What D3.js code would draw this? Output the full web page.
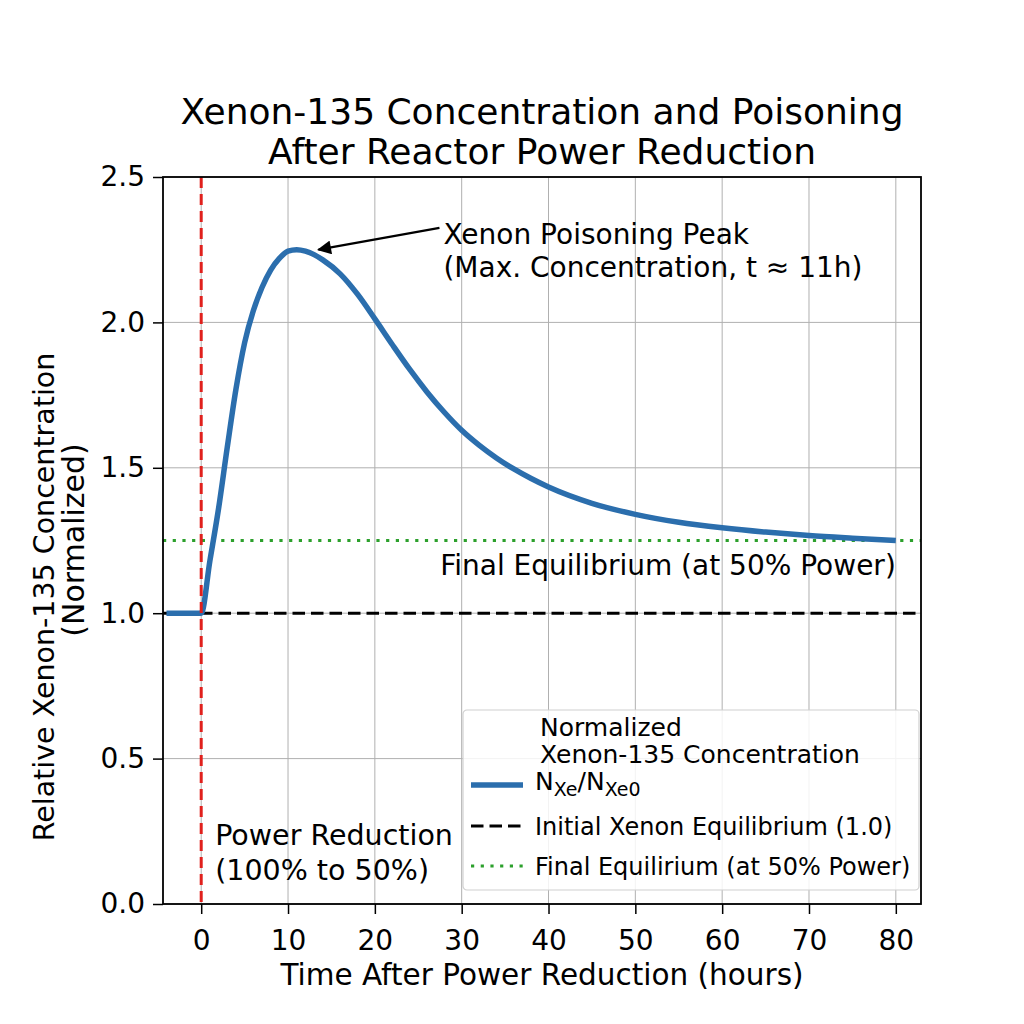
<!DOCTYPE html>
<html>
<head>
<meta charset="utf-8">
<script src="https://cdn.jsdelivr.net/npm/d3@7"></script>
<style>
  body { margin: 0; background: #fff; }
  svg { font-family: "DejaVu Sans", sans-serif; }
</style>
</head>
<body>
<script>
// data
let timeH = [-4, -2, 0, 1, 2, 3, 4, 5, 6, 7, 8, 9, 10, 11, 12, 13, 14, 16, 18, 20, 22, 24, 26, 28, 30, 32, 34, 36, 38, 40, 45, 50, 55, 60, 65, 70, 75, 80]
let xenonRel = [1.0, 1.0, 1.0, 1.18, 1.36, 1.57, 1.77, 1.93, 2.04, 2.12, 2.18, 2.22, 2.245, 2.25, 2.245, 2.233, 2.215, 2.167, 2.097, 2.012, 1.924, 1.839, 1.761, 1.691, 1.629, 1.578, 1.534, 1.496, 1.463, 1.434, 1.378, 1.34, 1.313, 1.294, 1.279, 1.267, 1.258, 1.25]
let xTicks = [0, 10, 20, 30, 40, 50, 60, 70, 80]
let yTicks = [0.0, 0.5, 1.0, 1.5, 2.0, 2.5]
let initialEq = 1.0
let finalEq = 1.25
let powerStepT = 0
let peakPoint = [13.5, 2.25]

let width = 1024
let height = 1024
let pLeft = 163, pRight = 921, pTop = 177, pBottom = 904

let svg = d3.select('body').append('svg')
    .attr('width', width)
    .attr('height', height)

let xScale = d3.scaleLinear().domain([-4.4, 82.9]).range([pLeft, pRight])
let yScale = d3.scaleLinear().domain([0, 2.5]).range([pBottom, pTop])

// grid
svg.append('g')
    .selectAll('line')
    .data(xTicks)
    .enter()
    .append('line')
    .attr('x1', d => xScale(d)).attr('x2', d => xScale(d))
    .attr('y1', pTop).attr('y2', pBottom)
    .attr('stroke', '#b0b0b0').attr('stroke-width', 1)

svg.append('g')
    .selectAll('line')
    .data(yTicks)
    .enter()
    .append('line')
    .attr('x1', pLeft).attr('x2', pRight)
    .attr('y1', d => yScale(d)).attr('y2', d => yScale(d))
    .attr('stroke', '#b0b0b0').attr('stroke-width', 1)

// reference lines
svg.append('line')
    .attr('x1', pLeft).attr('x2', pRight)
    .attr('y1', yScale(finalEq)).attr('y2', yScale(finalEq))
    .attr('stroke', '#2ca02c').attr('stroke-width', 3)
    .attr('stroke-dasharray', '3.2,6.5')

svg.append('line')
    .attr('x1', pLeft).attr('x2', pRight)
    .attr('y1', yScale(initialEq)).attr('y2', yScale(initialEq))
    .attr('stroke', '#000').attr('stroke-width', 3)
    .attr('stroke-dasharray', '12.5,6')

// xenon curve
let line = d3.line()
    .x((d, i) => xScale(timeH[i]))
    .y(d => yScale(d))
    .curve(d3.curveMonotoneX)

svg.append('path')
    .datum(xenonRel)
    .attr('d', line)
    .attr('fill', 'none')
    .attr('stroke', '#2b6ead')
    .attr('stroke-width', 5.5)

svg.append('line')
    .attr('x1', xScale(powerStepT)).attr('x2', xScale(powerStepT))
    .attr('y1', pTop).attr('y2', pBottom)
    .attr('stroke', '#e0201c').attr('stroke-width', 3)
    .attr('stroke-dasharray', '11,6')

// axes
let xAxis = d3.axisBottom(xScale).tickValues(xTicks).tickSize(10).tickPadding(16)
let yAxis = d3.axisLeft(yScale).tickValues(yTicks).tickSize(10).tickPadding(8)
    .tickFormat(d3.format('.1f'))

let gx = svg.append('g')
    .attr('transform', 'translate(0,' + pBottom + ')')
    .call(xAxis)
let gy = svg.append('g')
    .attr('transform', 'translate(' + pLeft + ',0)')
    .call(yAxis)

;[gx, gy].forEach(g => {
    g.select('.domain').remove()
    g.selectAll('.tick line').attr('stroke', '#000').attr('stroke-width', 1.5)
    g.selectAll('.tick text')
        .attr('fill', '#000')
        .style('font-size', '28px')
        .style('font-family', '"DejaVu Sans", sans-serif')
})

svg.append('rect')
    .attr('x', pLeft).attr('y', pTop)
    .attr('width', pRight - pLeft).attr('height', pBottom - pTop)
    .attr('fill', 'none').attr('stroke', '#000').attr('stroke-width', 1.8)

// titles
let title = svg.append('text')
    .attr('text-anchor', 'middle')
    .style('font-size', '36px')
title.append('tspan').attr('x', (pLeft + pRight) / 2).attr('y', 124)
    .text('Xenon-135 Concentration and Poisoning')
title.append('tspan').attr('x', (pLeft + pRight) / 2).attr('y', 164)
    .text('After Reactor Power Reduction')

svg.append('text')
    .attr('x', (pLeft + pRight) / 2).attr('y', 985)
    .attr('text-anchor', 'middle')
    .style('font-size', '29.5px')
    .text('Time After Power Reduction (hours)')

let ylab = svg.append('g').attr('transform', 'rotate(-90)')
ylab.append('text')
    .attr('text-anchor', 'middle')
    .attr('x', -597).attr('y', 54)
    .style('font-size', '28.5px')
    .text('Relative Xenon-135 Concentration')
ylab.append('text')
    .attr('text-anchor', 'middle')
    .attr('x', -540).attr('y', 84)
    .style('font-size', '30px')
    .text('(Normalized)')

// annotations
svg.append('defs').append('marker')
    .attr('id', 'arrowhead')
    .attr('viewBox', '0 0 10 10')
    .attr('refX', 9).attr('refY', 5)
    .attr('markerWidth', 15).attr('markerHeight', 14)
    .attr('markerUnits', 'userSpaceOnUse')
    .attr('orient', 'auto')
    .append('path')
    .attr('d', 'M0,0 L10,5 L0,10 z')
    .attr('fill', '#000')

let annX = 27.9
svg.append('line')
    .attr('x1', xScale(annX) - 4).attr('y1', yScale(2.325))
    .attr('x2', xScale(peakPoint[0])).attr('y2', yScale(peakPoint[1]))
    .attr('stroke', '#000').attr('stroke-width', 2.2)
    .attr('marker-end', 'url(#arrowhead)')

let ann = svg.append('text').style('font-size', '28px')
ann.append('tspan').attr('x', xScale(annX)).attr('y', 244).text('Xenon Poisoning Peak')
ann.append('tspan').attr('x', xScale(annX)).attr('y', 277).text('(Max. Concentration, t \u2248 11h)')

svg.append('text')
    .attr('x', xScale(80)).attr('y', 575)
    .attr('text-anchor', 'end')
    .style('font-size', '28px')
    .text('Final Equilibrium (at 50% Power)')

let pr = svg.append('text').style('font-size', '28.5px')
pr.append('tspan').attr('x', xScale(powerStepT) + 14).attr('y', 845).text('Power Reduction')
pr.append('tspan').attr('x', xScale(powerStepT) + 14).attr('y', 880).text('(100% to 50%)')

// legend
let legend = svg.append('g').attr('transform', 'translate(463,710)')
legend.append('rect')
    .attr('width', 456).attr('height', 180)
    .attr('rx', 4)
    .attr('fill', 'rgba(255,255,255,0.85)')
    .attr('stroke', '#d0d0d0').attr('stroke-width', 1.2)

let lt = legend.append('text').style('font-size', '25px')
lt.append('tspan').attr('x', 77).attr('y', 26).text('Normalized')
lt.append('tspan').attr('x', 77).attr('y', 53).text('Xenon-135 Concentration')
let lt3 = legend.append('text').style('font-size', '25px').attr('x', 72).attr('y', 80)
lt3.append('tspan').text('N')
lt3.append('tspan').attr('dy', 6).style('font-size', '19px').text('Xe')
lt3.append('tspan').attr('dy', -6).text('/N')
lt3.append('tspan').attr('dy', 6).style('font-size', '19px').text('Xe0')

legend.append('line')
    .attr('x1', 8).attr('x2', 60).attr('y1', 75).attr('y2', 75)
    .attr('stroke', '#2b6ead').attr('stroke-width', 5.5)
legend.append('line')
    .attr('x1', 8).attr('x2', 60).attr('y1', 116).attr('y2', 116)
    .attr('stroke', '#000').attr('stroke-width', 3)
    .attr('stroke-dasharray', '12.5,6')
legend.append('line')
    .attr('x1', 8).attr('x2', 60).attr('y1', 156).attr('y2', 156)
    .attr('stroke', '#2ca02c').attr('stroke-width', 3)
    .attr('stroke-dasharray', '3.2,6.5')

legend.append('text').style('font-size', '24px')
    .attr('x', 72).attr('y', 125).text('Initial Xenon Equilibrium (1.0)')
legend.append('text').style('font-size', '24px')
    .attr('x', 72).attr('y', 165).text('Final Equilirium (at 50% Power)')
</script>
</body>
</html>
